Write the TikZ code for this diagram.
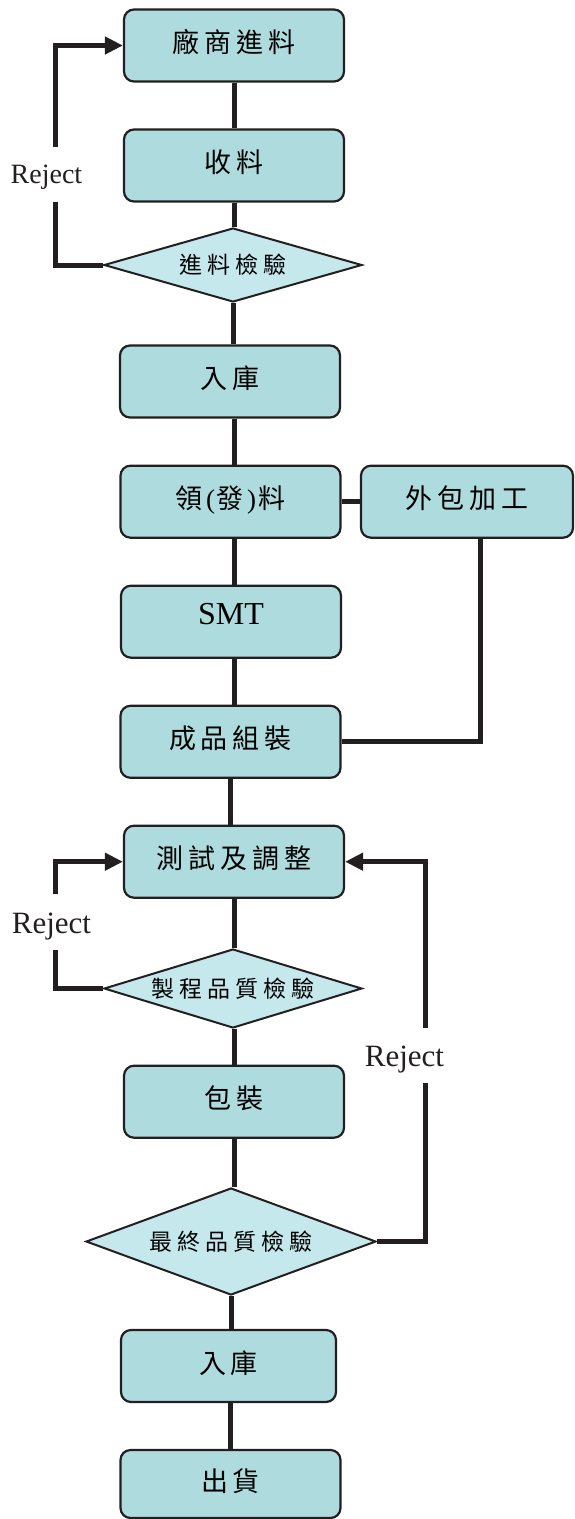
\documentclass[tikz,border=0pt]{standalone}
\usepackage{fontspec}
\setmainfont{Liberation Serif}
\newfontfamily\cjk{Noto Sans CJK TC}
\usetikzlibrary{shapes.geometric,arrows.meta}
\definecolor{boxfill}{RGB}{174,219,222}
\definecolor{diafill}{RGB}{197,232,237}
\definecolor{ink}{RGB}{35,31,32}
\newcommand\kk{\kern5pt}
\begin{document}
\begin{tikzpicture}[x=1pt,y=-1pt,
  box/.style={draw=ink,line width=2.2pt,fill=boxfill,rounded corners=10pt,
    minimum width=220pt,minimum height=72pt,inner sep=0pt,
    font=\cjk\fontsize{27}{27}\selectfont,text height=18pt,text depth=4pt},
  dia/.style={diamond,draw=ink,line width=2pt,fill=diafill,inner sep=0pt,
    font=\cjk\fontsize{23}{23}\selectfont,text height=17pt,text depth=0pt},
  conn/.style={draw=ink,line width=5pt},
  arr/.style={conn,-{Triangle[length=18pt,width=17pt]}},
  rejtxt/.style={inner sep=0pt,anchor=base,text=ink}
]
\useasboundingbox (0,0) rectangle (574,1519);

% nodes
\node[box] (b1) at (234,45.5) {廠\kk 商\kk 進\kk 料};
\node[box] (b2) at (234,165.5) {收\kk 料};
\node[dia,aspect=3.486,minimum width=258pt,minimum height=74pt] (d1) at (233,265) {進\kk 料\kk 檢\kk 驗};
\node[box] (b3) at (230,381.5) {入\kk 庫};
\node[box] (b4) at (230.5,501.7) {領\kern4pt{\rmfamily(}\kern1pt 發\kern4pt{\rmfamily)}\kern3pt 料};
\node[box,minimum width=212pt] (b5) at (467,501.7) {外\kk 包\kk 加\kk 工};
\node[box,font=\fontsize{32}{32}\selectfont,text height=14pt,text depth=8pt] (b6) at (231,621.7) {SMT};
\node[box] (b7) at (230.5,741.8) {成\kk 品\kk 組\kk 裝};
\node[box] (b8) at (234,861.7) {測\kk 試\kk 及\kk 調\kk 整};
\node[dia,aspect=3.266,minimum width=258pt,minimum height=79pt] (d2) at (233,988.5) {製\kk 程\kk 品\kk 質\kk 檢\kk 驗};
\node[box] (b9) at (234,1101.7) {包\kk 裝};
\node[dia,aspect=2.71,minimum width=290pt,minimum height=107pt] (d3) at (231,1241.5) {最\kk 終\kk 品\kk 質\kk 檢\kk 驗};
\node[box,minimum width=215pt] (b10) at (228.5,1366) {入\kk 庫};
\node[box,minimum height=68pt] (b11) at (230.5,1484) {出\kk 貨};

% helper coordinates
\coordinate (cA) at (234,0);
\coordinate (cB) at (230.5,0);
\coordinate (c5) at (480,0);
\coordinate (g1a) at (55,202);
\coordinate (g1b) at (55,147);
\coordinate (g2a) at (55,950);
\coordinate (g2b) at (55,894);
\coordinate (g3a) at (425,1082.7);
\coordinate (g3b) at (425,1027.7);

% main flow
\draw[conn] (b1.south) -- (b2.north);
\draw[conn] (b2.south) -- (b2.south |- d1.north);
\draw[conn] (d1.south) -- (d1.south |- b3.north);
\draw[conn] (b3.south -| cA) -- (b4.north -| cA);
\draw[conn] (b4.south -| cA) -- (b6.north -| cA);
\draw[conn] (b6.south -| cA) -- (b7.north -| cA);
\draw[conn] (b7.south -| cB) -- (b8.north -| cB);
\draw[conn] (b8.south -| cA) -- (d2.north -| cA);
\draw[conn] (d2.south -| cA) -- (b9.north -| cA);
\draw[conn] (b9.south -| cA) -- (d3.north -| cA);
\draw[conn] (d3.south) -- (d3.south |- b10.north);
\draw[conn] (b10.south -| cB) -- (b11.north -| cB);

% outsourcing branch
\draw[conn] (b4.east) -- (b5.west);
\draw[conn] (b5.south -| c5) |- (b7.east);

% reject loops
\draw[conn] (d1.west) -| (g1a);
\draw[arr] (g1b) |- (b1.west);
\draw[conn] (d2.west) -| (g2a);
\draw[arr] (g2b) |- (b8.west);
\draw[conn] (d3.east) -| (g3a);
\draw[arr] (g3b) |- (b8.east);

\node[rejtxt,font=\fontsize{28}{28}\selectfont] (r1) at (46.5,183.3) {Reject};
\node[rejtxt,font=\fontsize{31}{31}\selectfont] (r2) at (51.5,933.3) {Reject};
\node[rejtxt,font=\fontsize{31}{31}\selectfont] (r3) at (404.5,1066.7) {Reject};
\end{tikzpicture}
\end{document}
